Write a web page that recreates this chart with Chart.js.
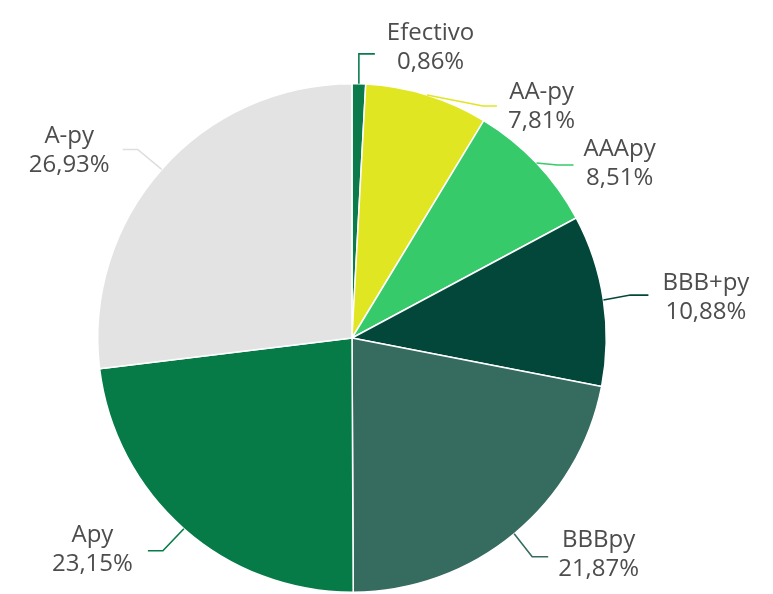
<!DOCTYPE html>
<html>
<head>
<meta charset="utf-8">
<script src="https://cdn.jsdelivr.net/npm/chart.js@4.4.1/dist/chart.umd.min.js"></script>
<style>
  html, body { margin: 0; padding: 0; background: #ffffff; }
  #wrap { width: 773px; height: 594px; position: relative; }
</style>
</head>
<body>
<div id="wrap"><canvas id="c" width="773" height="594"></canvas></div>
<script>
// ---- data ----
const categories = ['Efectivo', 'AA-py', 'AAApy', 'BBB+py', 'BBBpy', 'Apy', 'A-py'];
const shares = [0.86, 7.81, 8.51, 10.88, 21.87, 23.15, 26.93];

// ---- style ----
const sliceColors = ['#0b7b4c', '#e1e622', '#37ca6a', '#03473a', '#366b60', '#067b47', '#e3e3e3'];
const leaderColors = ['#0b7b4c', '#e1e622', '#37ca6a', '#03473a', '#366b60', '#067b47', '#dedede'];
// leader layout: elbow offset from slice edge point, horizontal run, text gap, first baseline offset
const leaderLayout = [
  { ex: 0,   ey: -30, run: 16,  gap: 12, by: -14 },
  { ex: 56,  ey: 11,  run: 14,  gap: 11, by: -7 },
  { ex: 21,  ey: 2,   run: 16,  gap: 10, by: -9 },
  { ex: 27,  ey: -5,  run: 18,  gap: 14, by: -5 },
  { ex: 18,  ey: 23,  run: 16,  gap: 10, by: -10 },
  { ex: -21, ey: 22,  run: -15, gap: 15, by: -9 },
  { ex: -24, ey: -20, run: -15, gap: 13, by: -6 }
];

function fmt(v) { return v.toFixed(2).replace('.', ',') + '%'; }

const labelPlugin = {
  id: 'leaderLabels',
  afterDatasetsDraw(chart) {
    const ctx = chart.ctx;
    const meta = chart.getDatasetMeta(0);
    ctx.save();
    ctx.font = '24px "Open Sans"';
    meta.data.forEach((arc, i) => {
      const p = arc.getProps(['x', 'y', 'startAngle', 'endAngle', 'outerRadius'], true);
      const mid = (p.startAngle + p.endAngle) / 2;
      const sx = p.x + Math.cos(mid) * p.outerRadius;
      const sy = p.y + Math.sin(mid) * p.outerRadius;
      const L = leaderLayout[i];
      const bx = sx + L.ex, by = sy + L.ey;
      const endX = bx + L.run, endY = by;
      ctx.strokeStyle = leaderColors[i];
      ctx.lineWidth = 1.6;
      ctx.beginPath();
      ctx.moveTo(sx, sy);
      ctx.lineTo(bx, by);
      ctx.lineTo(endX, endY);
      ctx.stroke();

      const l1 = categories[i], l2 = fmt(shares[i]);
      const w = Math.max(ctx.measureText(l1).width, ctx.measureText(l2).width);
      const right = L.run >= 0;
      const left = right ? endX + L.gap : endX - L.gap - w;
      const cx = left + w / 2;
      ctx.fillStyle = '#4d4d4d';
      ctx.textAlign = 'center';
      ctx.textBaseline = 'alphabetic';
      const b1 = endY + L.by;
      ctx.fillText(l1, cx, b1);
      ctx.fillText(l2, cx, b1 + 29);
    });
    ctx.restore();
  }
};

new Chart(document.getElementById('c'), {
  type: 'pie',
  data: {
    labels: categories,
    datasets: [{
      data: shares,
      backgroundColor: sliceColors,
      borderColor: '#ffffff',
      borderWidth: 1.5
    }]
  },
  options: {
    responsive: false,
    animation: false,
    layout: { padding: { left: 97, right: 166, top: 83, bottom: 1 } },
    plugins: {
      legend: { display: false },
      tooltip: { enabled: false }
    }
  },
  plugins: [labelPlugin]
});
</script>
</body>
</html>
